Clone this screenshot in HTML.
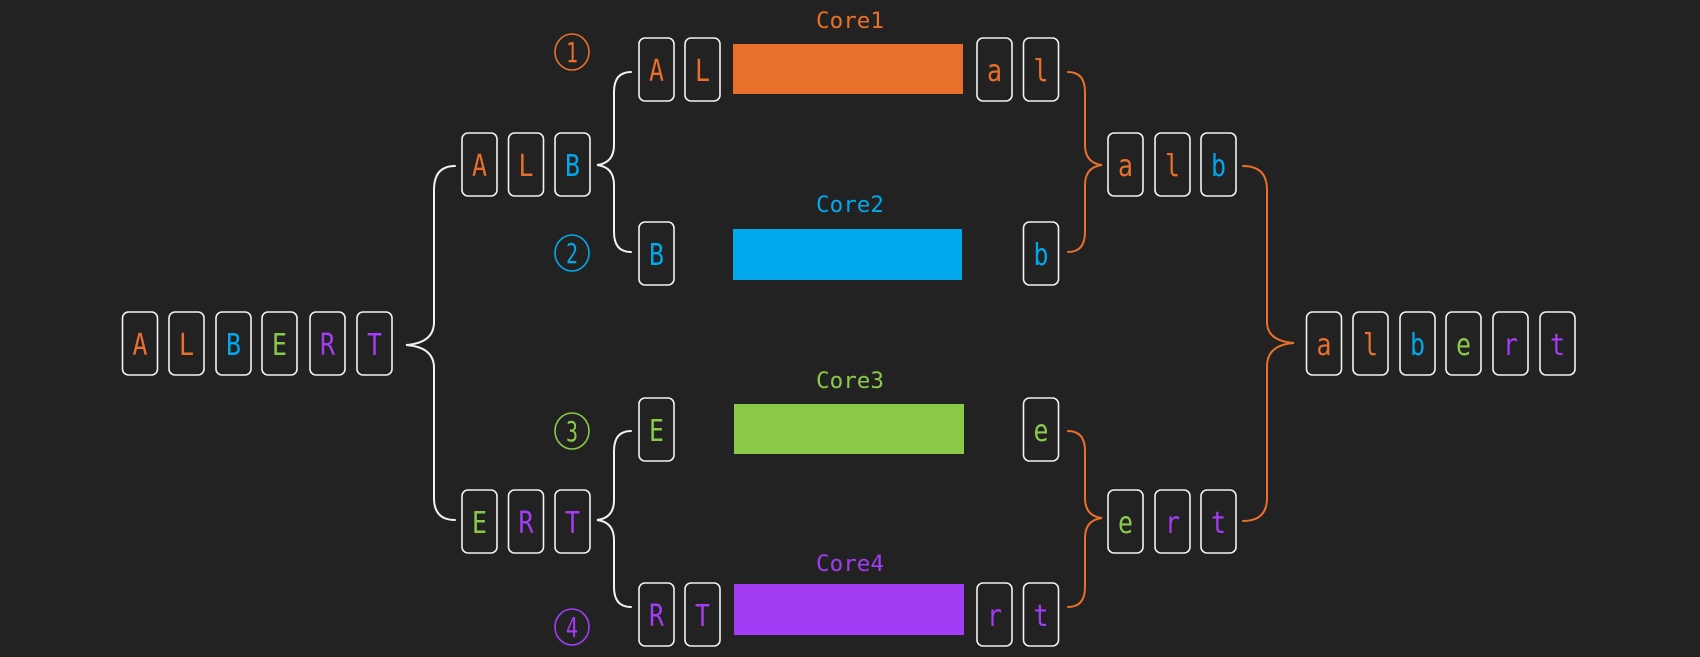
<!DOCTYPE html>
<html><head><meta charset="utf-8"><style>
html,body{margin:0;padding:0;background:#222222;}
svg{display:block}
text{font-family:"DejaVu Sans Mono","Liberation Mono",monospace;}
</style></head><body>
<svg width="1700" height="657" viewBox="0 0 1700 657" xmlns="http://www.w3.org/2000/svg">
<rect width="1700" height="657" fill="#222222"/>
<defs>
<g id="bx"><rect x="0" y="0" width="35" height="63" rx="6" fill="none" stroke="#f2f2f2" stroke-width="1.6"/></g>
</defs>
<g font-size="30" text-anchor="middle" lengthAdjust="spacingAndGlyphs">
<!-- ALBERT -->
<use href="#bx" x="122.5" y="312"/><text x="140" y="355" textLength="15" lengthAdjust="spacingAndGlyphs" fill="#e8702a">A</text>
<use href="#bx" x="169" y="312"/><text x="186.5" y="355" textLength="15" lengthAdjust="spacingAndGlyphs" fill="#e8702a">L</text>
<use href="#bx" x="216" y="312"/><text x="233.5" y="355" textLength="15" lengthAdjust="spacingAndGlyphs" fill="#02a8ec">B</text>
<use href="#bx" x="262" y="312"/><text x="279.5" y="355" textLength="15" lengthAdjust="spacingAndGlyphs" fill="#8bc94a">E</text>
<use href="#bx" x="310" y="312"/><text x="327.5" y="355" textLength="15" lengthAdjust="spacingAndGlyphs" fill="#a33df5">R</text>
<use href="#bx" x="357" y="312"/><text x="374.5" y="355" textLength="15" lengthAdjust="spacingAndGlyphs" fill="#a33df5">T</text>
<!-- ALB -->
<use href="#bx" x="462" y="133"/><text x="479.5" y="176" textLength="15" lengthAdjust="spacingAndGlyphs" fill="#e8702a">A</text>
<use href="#bx" x="508.5" y="133"/><text x="526" y="176" textLength="15" lengthAdjust="spacingAndGlyphs" fill="#e8702a">L</text>
<use href="#bx" x="555" y="133"/><text x="572.5" y="176" textLength="15" lengthAdjust="spacingAndGlyphs" fill="#02a8ec">B</text>
<!-- ERT -->
<use href="#bx" x="462" y="490"/><text x="479.5" y="533" textLength="15" lengthAdjust="spacingAndGlyphs" fill="#8bc94a">E</text>
<use href="#bx" x="508.5" y="490"/><text x="526" y="533" textLength="15" lengthAdjust="spacingAndGlyphs" fill="#a33df5">R</text>
<use href="#bx" x="555" y="490"/><text x="572.5" y="533" textLength="15" lengthAdjust="spacingAndGlyphs" fill="#a33df5">T</text>
<!-- AL -->
<use href="#bx" x="639" y="38"/><text x="656.5" y="81" textLength="15" lengthAdjust="spacingAndGlyphs" fill="#e8702a">A</text>
<use href="#bx" x="685" y="38"/><text x="702.5" y="81" textLength="15" lengthAdjust="spacingAndGlyphs" fill="#e8702a">L</text>
<use href="#bx" x="639" y="222"/><text x="656.5" y="265" textLength="15" lengthAdjust="spacingAndGlyphs" fill="#02a8ec">B</text>
<use href="#bx" x="639" y="398"/><text x="656.5" y="441" textLength="15" lengthAdjust="spacingAndGlyphs" fill="#8bc94a">E</text>
<use href="#bx" x="639" y="583"/><text x="656.5" y="626" textLength="15" lengthAdjust="spacingAndGlyphs" fill="#a33df5">R</text>
<use href="#bx" x="685" y="583"/><text x="702.5" y="626" textLength="15" lengthAdjust="spacingAndGlyphs" fill="#a33df5">T</text>
<!-- outputs -->
<use href="#bx" x="977" y="38"/><text x="994.5" y="81" textLength="15" lengthAdjust="spacingAndGlyphs" fill="#e8702a">a</text>
<use href="#bx" x="1023.5" y="38"/><text x="1041" y="81" textLength="15" lengthAdjust="spacingAndGlyphs" fill="#e8702a">l</text>
<use href="#bx" x="1023.5" y="222"/><text x="1041" y="265" textLength="15" lengthAdjust="spacingAndGlyphs" fill="#02a8ec">b</text>
<use href="#bx" x="1023.5" y="398"/><text x="1041" y="441" textLength="15" lengthAdjust="spacingAndGlyphs" fill="#8bc94a">e</text>
<use href="#bx" x="977" y="583"/><text x="994.5" y="626" textLength="15" lengthAdjust="spacingAndGlyphs" fill="#a33df5">r</text>
<use href="#bx" x="1023.5" y="583"/><text x="1041" y="626" textLength="15" lengthAdjust="spacingAndGlyphs" fill="#a33df5">t</text>
<!-- alb / ert -->
<use href="#bx" x="1108" y="133"/><text x="1125.5" y="176" textLength="15" lengthAdjust="spacingAndGlyphs" fill="#e8702a">a</text>
<use href="#bx" x="1155" y="133"/><text x="1172.5" y="176" textLength="15" lengthAdjust="spacingAndGlyphs" fill="#e8702a">l</text>
<use href="#bx" x="1201" y="133"/><text x="1218.5" y="176" textLength="15" lengthAdjust="spacingAndGlyphs" fill="#02a8ec">b</text>
<use href="#bx" x="1108" y="490"/><text x="1125.5" y="533" textLength="15" lengthAdjust="spacingAndGlyphs" fill="#8bc94a">e</text>
<use href="#bx" x="1155" y="490"/><text x="1172.5" y="533" textLength="15" lengthAdjust="spacingAndGlyphs" fill="#a33df5">r</text>
<use href="#bx" x="1201" y="490"/><text x="1218.5" y="533" textLength="15" lengthAdjust="spacingAndGlyphs" fill="#a33df5">t</text>
<!-- albert -->
<use href="#bx" x="1306.5" y="312"/><text x="1324" y="355" textLength="15" lengthAdjust="spacingAndGlyphs" fill="#e8702a">a</text>
<use href="#bx" x="1353" y="312"/><text x="1370.5" y="355" textLength="15" lengthAdjust="spacingAndGlyphs" fill="#e8702a">l</text>
<use href="#bx" x="1400" y="312"/><text x="1417.5" y="355" textLength="15" lengthAdjust="spacingAndGlyphs" fill="#02a8ec">b</text>
<use href="#bx" x="1446" y="312"/><text x="1463.5" y="355" textLength="15" lengthAdjust="spacingAndGlyphs" fill="#8bc94a">e</text>
<use href="#bx" x="1493" y="312"/><text x="1510.5" y="355" textLength="15" lengthAdjust="spacingAndGlyphs" fill="#a33df5">r</text>
<use href="#bx" x="1540" y="312"/><text x="1557.5" y="355" textLength="15" lengthAdjust="spacingAndGlyphs" fill="#a33df5">t</text>
</g>
<!-- bars -->
<rect x="733" y="44" width="230" height="50" fill="#e8702a"/>
<rect x="733" y="229" width="229" height="51" fill="#02a8ec"/>
<rect x="734" y="404" width="230" height="50" fill="#8bc94a"/>
<rect x="734" y="584" width="230" height="51" fill="#a33df5"/>
<g font-size="22" text-anchor="middle">
<text x="850" y="28" textLength="68" lengthAdjust="spacingAndGlyphs" fill="#e8702a">Core1</text>
<text x="850" y="212" textLength="68" lengthAdjust="spacingAndGlyphs" fill="#02a8ec">Core2</text>
<text x="850" y="388" textLength="68" lengthAdjust="spacingAndGlyphs" fill="#8bc94a">Core3</text>
<text x="850" y="571" textLength="68" lengthAdjust="spacingAndGlyphs" fill="#a33df5">Core4</text>
</g>
<!-- circled numbers -->
<g fill="none" stroke-width="1.6">
<ellipse cx="572" cy="52" rx="17" ry="18" stroke="#e8702a"/>
<ellipse cx="572" cy="253" rx="17" ry="18" stroke="#02a8ec"/>
<ellipse cx="572" cy="431" rx="17" ry="18" stroke="#8bc94a"/>
<ellipse cx="572" cy="627" rx="17" ry="18" stroke="#a33df5"/>
</g>
<g font-size="28" text-anchor="middle">
<text x="572" y="62" textLength="12" lengthAdjust="spacingAndGlyphs" fill="#e8702a">1</text>
<text x="572" y="263" textLength="12" lengthAdjust="spacingAndGlyphs" fill="#02a8ec">2</text>
<text x="572" y="441" textLength="12" lengthAdjust="spacingAndGlyphs" fill="#8bc94a">3</text>
<text x="572" y="637" textLength="12" lengthAdjust="spacingAndGlyphs" fill="#a33df5">4</text>
</g>
<!-- braces -->
<g fill="none" stroke-width="2" stroke-linecap="round">
<path d="M455 166 Q434 166 434 190 L434 322 Q434 343 406 345 Q434 347 434 368 L434 498 Q434 520 455 520" stroke="#f2f2f2"/>
<path d="M631 72 Q614 72 614 92 L614 145 Q614 163 597 165 Q614 167 614 185 L614 232 Q614 252 631 252" stroke="#f2f2f2"/>
<path d="M631 431 Q614 431 614 451 L614 500 Q614 518 597 520 Q614 522 614 540 L614 587 Q614 607 631 607" stroke="#f2f2f2"/>
<path d="M1068 72 Q1085 72 1085 92 L1085 145 Q1085 163 1102 165 Q1085 167 1085 185 L1085 232 Q1085 252 1068 252" stroke="#e8702a"/>
<path d="M1068 431 Q1085 431 1085 451 L1085 498 Q1085 516 1102 518 Q1085 520 1085 538 L1085 587 Q1085 607 1068 607" stroke="#e8702a"/>
<path d="M1243 166 Q1267 166 1267 190 L1267 322 Q1267 341 1294 343 Q1267 345 1267 366 L1267 498 Q1267 521 1243 521" stroke="#e8702a"/>
</g>
</svg>
</body></html>
